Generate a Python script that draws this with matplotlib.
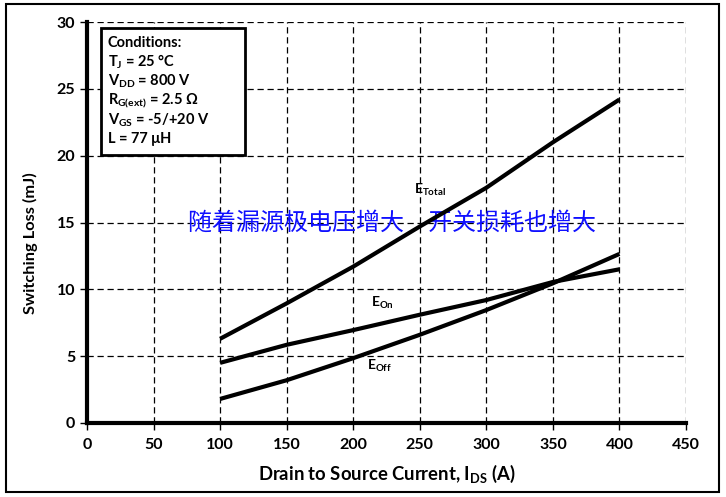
import matplotlib
matplotlib.use("Agg")
import matplotlib.pyplot as plt
from matplotlib.patches import Rectangle
import numpy as np

plt.rcParams['font.family'] = ['Lato', 'DejaVu Sans']
plt.rcParams['mathtext.fontset'] = 'custom'
plt.rcParams['mathtext.rm'] = 'Lato:bold'
plt.rcParams['mathtext.it'] = 'Lato:bold'
plt.rcParams['mathtext.bf'] = 'Lato:bold'

current = [100, 150, 200, 250, 300, 350, 400]
e_total = [6.3, 8.95, 11.7, 14.7, 17.6, 21.0, 24.2]
e_on = [4.5, 5.85, 6.95, 8.1, 9.2, 10.55, 11.5]
e_off = [1.8, 3.2, 4.85, 6.6, 8.45, 10.45, 12.65]

xticks = [0, 50, 100, 150, 200, 250, 300, 350, 400, 450]
yticks = [0, 5, 10, 15, 20, 25, 30]

conditions = ["Conditions:", "T$_{J}$ = 25 °C", "V$_{DD}$ = 800 V",
              "R$_{G(ext)}$ = 2.5 Ω", "V$_{GS}$ = -5/+20 V", "L = 77 μH"]
annotation = "随着漏源极电压增大　开关损耗也增大"

W, H = 726, 497
fig = plt.figure(figsize=(W / 100, H / 100), dpi=100)
ax = fig.add_axes([87 / W, 1 - 423 / H, (686 - 87) / W, (423 - 22) / H])

for y in (e_total, e_on, e_off):
    ax.plot(current, y, color='black', lw=3, solid_capstyle='butt', zorder=3)

ax.set_xlim(0, 450)
ax.set_ylim(0, 30)
ax.set_xticks(xticks)
ax.set_yticks(yticks)
ax.grid(True, color='black', linestyle=(0, (5, 3)), lw=0.9)
for s in ('top', 'right'):
    ax.spines[s].set_visible(False)
for s in ('left', 'bottom'):
    ax.spines[s].set_linewidth(3)
ax.tick_params(axis='both', direction='out', length=5, width=1, labelsize=11.5)
for lab in ax.get_xticklabels() + ax.get_yticklabels():
    lab.set_fontweight('bold')
ax.tick_params(axis='x', pad=6)

ax.set_xlabel("Drain to Source Current, I$_{DS}$ (A)", fontsize=13.3, fontweight='bold', labelpad=8)
ax.set_ylabel("Switching Loss (mJ)", fontsize=11.8, fontweight='bold')
ax.yaxis.set_label_coords((38 - 87) / 599, 1 - (243 - 22) / 401)

ax.text(258, 17.4, "E$_{Total}$", fontsize=10, fontweight='bold', ha='center', va='center')
ax.text(222, 9.0, "E$_{On}$", fontsize=10, fontweight='bold', ha='center', va='center')
ax.text(220, 4.3, "E$_{Off}$", fontsize=10, fontweight='bold', ha='center', va='center')

ax.text(229, 15.0, annotation, fontsize=17.3, color='#1010ff',
        family=['Noto Sans CJK SC', 'DejaVu Sans'], ha='center', va='center', zorder=2.5)

# conditions box
bx0, bx1 = (101 - 87) / 599, (245 - 87) / 599
by0, by1 = 1 - (155 - 22) / 401, 1 - (28 - 22) / 401
ax.add_patch(Rectangle((bx0, by0), bx1 - bx0, by1 - by0, transform=ax.transAxes,
                       facecolor='white', edgecolor='black', lw=2, zorder=5))
ys = [43, 62, 81, 101, 120, 139]
for t, yy in zip(conditions, ys):
    ax.text((108 - 87) / 599, 1 - (yy - 22) / 401, t, transform=ax.transAxes,
            fontsize=10.5, fontweight='bold', va='center', ha='left', zorder=6)

fig.add_artist(Rectangle((6 / W, 1 - 492 / H), (719 - 6) / W, (492 - 4) / H,
                         transform=fig.transFigure, fill=False, edgecolor='black', lw=1.5))

fig.savefig("out.png", dpi=100)
